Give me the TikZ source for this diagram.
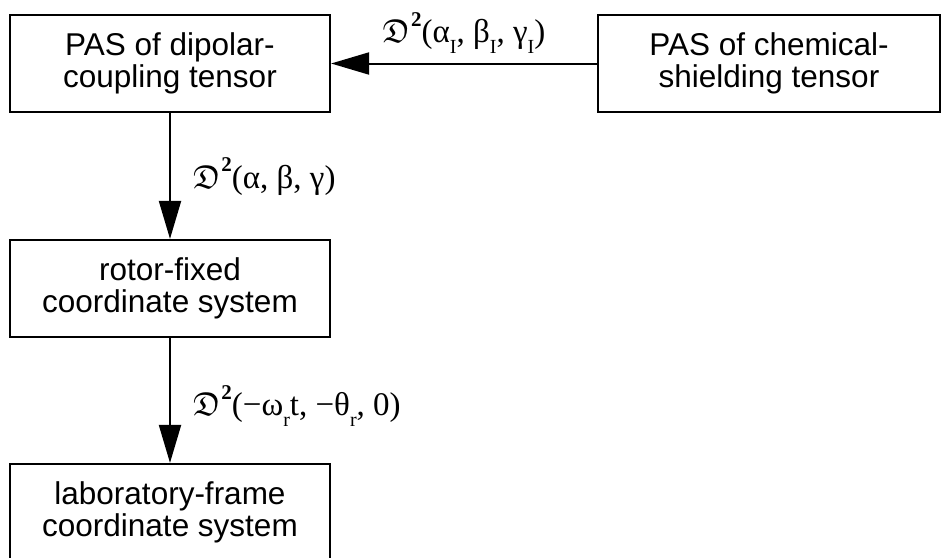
\documentclass[tikz,border=0pt]{standalone}
\usepackage{fix-cm}
\usepackage{amssymb}
\usepackage{fontspec}
\setmainfont{Liberation Serif}
\newfontfamily\boxfont{Liberation Sans}
\usetikzlibrary{arrows.meta}
\newcommand\lowsub[1]{\raisebox{-0.32em}{\fontsize{20}{20}\selectfont #1}}
\newcommand\fD{$\mathfrak{D}$\kern1pt\raisebox{0.5em}{\fontsize{21}{21}\selectfont\bfseries 2}}
\begin{document}
\begin{tikzpicture}[x=1pt,y=-1pt,
  box/.style={draw, line width=2.2pt, minimum width=320pt, minimum height=97pt,
    inner sep=0pt, align=center, font=\boxfont\fontsize{31.5}{32.5}\selectfont},
  arr/.style={line width=2pt, -{Triangle[length=38pt,width=22pt]}},
  lbl/.style={font=\fontsize{33}{35}\selectfont, inner sep=0pt}]
\useasboundingbox (0,0) rectangle (942,557);
\node[box] (dip) at (170,63.5) {PAS of dipolar-\\coupling tensor};
\node[box, minimum width=342pt] (cs) at (769,63.5) {PAS of chemical-\\shielding tensor};
\node[box] (rot) at (170,288.5) {rotor-fixed\\coordinate system};
\node[box] (lab) at (170,512.5) {laboratory-frame\\coordinate system};
\draw[arr] (cs) -- node[lbl, anchor=base, yshift=21pt] {\fD(α\lowsub{I}, β\lowsub{I}, γ\lowsub{I})} (dip);
\draw[arr] (dip) -- node[lbl, anchor=base west, xshift=22pt, yshift=-12pt] {\fD(α, β, γ)} (rot);
\draw[arr] (rot) -- node[lbl, anchor=base west, xshift=22pt, yshift=-15pt] {\fD(−ω\lowsub{r}t, −θ\lowsub{r}, 0)} (lab);
\end{tikzpicture}
\end{document}
